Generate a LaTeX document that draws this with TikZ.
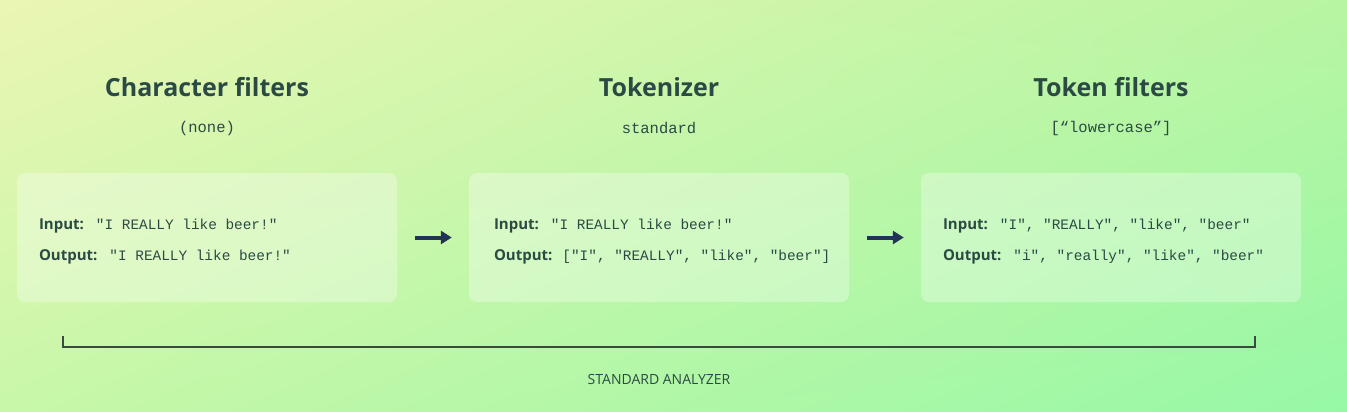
\documentclass[tikz,border=0pt]{standalone}
\usepackage{fontspec}
\setmainfont{Open Sans}
\setmonofont{Liberation Mono}
\usepackage{xcolor}
\definecolor{cText}{HTML}{2B4A44}
\definecolor{cArrow}{HTML}{223354}
\definecolor{cLine}{HTML}{3A4A3E}
\definecolor{cBgUL}{HTML}{EBF6B4}
\definecolor{cBgUR}{HTML}{B8F5A2}
\definecolor{cBgLL}{HTML}{C8F7A8}
\definecolor{cBgLR}{HTML}{96F8A6}
\usetikzlibrary{positioning,arrows.meta,calc,shadings}
\tikzset{
  node-box/.style={fill=white,fill opacity=0.32,text opacity=1,
    rounded corners=8pt,minimum width=380pt,minimum height=129pt,inner sep=0pt},
  node-title/.style={text=cText,font=\fontsize{25}{30}\selectfont\bfseries},
  node-sub/.style={text=cText,font=\fontsize{15.5}{18}\selectfont\ttfamily},
  node-io/.style={text=cText,align=left,anchor=west,inner sep=0pt,
    font=\fontsize{14.4}{31}\selectfont\ttfamily},
  arrow/.style={-{Triangle[length=11pt,width=13pt]},line width=4pt,draw=cArrow,
    shorten <=18pt,shorten >=17pt},
  bracket/.style={draw=cLine,line width=1.5pt},
}
\newcommand{\iolabel}[1]{{\fontsize{15}{18}\selectfont\rmfamily\bfseries #1}\hspace{12pt}}

\begin{document}
\begin{tikzpicture}[x=1pt,y=-1pt]
  \useasboundingbox (0,0) rectangle (1347,412);
  \shade[upper left=cBgUL,upper right=cBgUR,lower left=cBgLL,lower right=cBgLR]
    (0,0) rectangle (1347,412);
  % stages
  \node[node-box] (cf) at (207,237.5) {};
  \node[node-box] (tk) at (659,237.5) {};
  \node[node-box] (tf) at (1111,237.5) {};
  \node[node-title] (cf-t) at (207,87) {Character filters};
  \node[node-title] (tk-t) at (659,87) {Tokenizer};
  \node[node-title] (tf-t) at (1111,87) {Token filters};
  \node[node-sub] (cf-s) at (207,128) {(none)};
  \node[node-sub] (tk-s) at (659,128) {standard};
  \node[node-sub] (tf-s) at (1111,128) {[“lowercase”]};
  \node[node-io] (cf-io) at ($(cf.west)+(22,4)$)
    {\iolabel{Input:}"I REALLY like beer!"\\
     \iolabel{Output:}"I REALLY like beer!"};
  \node[node-io] (tk-io) at ($(tk.west)+(25,4)$)
    {\iolabel{Input:}"I REALLY like beer!"\\
     \iolabel{Output:}\hspace{-2pt}["I", "REALLY", "like", "beer"]};
  \node[node-io] (tf-io) at ($(tf.west)+(22,4)$)
    {\iolabel{Input:}"I", "REALLY", "like", "beer"\\
     \iolabel{Output:}"i", "really", "like", "beer"};
  \draw[arrow] (cf) -- (tk);
  \draw[arrow] (tk) -- (tf);
  % analyzer bracket
  \coordinate (br-l) at (63,336);
  \coordinate (br-r) at (1255,336);
  \draw[bracket] (br-l) -- ++(0,11) -| (br-r);
  \node[text=cText,font=\fontsize{14}{16}\selectfont] (an) at (659,379)
    {STANDARD ANALYZER};
\end{tikzpicture}
\end{document}
